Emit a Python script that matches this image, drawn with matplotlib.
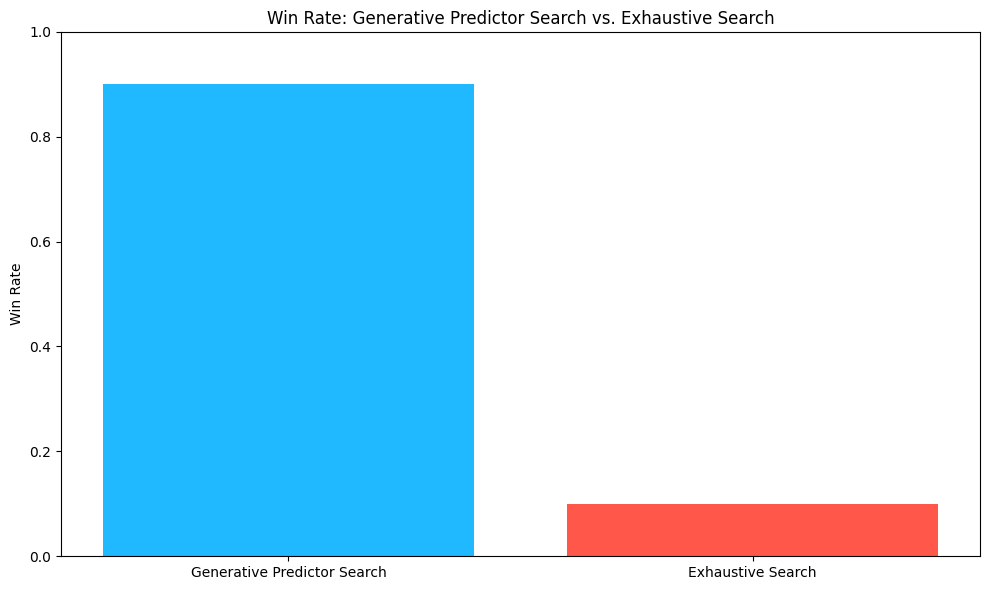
import matplotlib.pyplot as plt

methods = ['Generative Predictor Search', 'Exhaustive Search']
win_rates = [0.9, 0.1]
colors = ['#20B8FF', '#FF574A']

fig, ax = plt.subplots(figsize=(9.89, 5.9), dpi=100)
ax.bar(methods, win_rates, color=colors)

ax.set_ylabel('Win Rate')
ax.set_title('Win Rate: Generative Predictor Search vs. Exhaustive Search')
ax.set_ylim(0, 1)

plt.subplots_adjust(left=0.0617, right=0.9909, top=0.9458, bottom=0.0576)
plt.savefig('out.png', dpi=100)
